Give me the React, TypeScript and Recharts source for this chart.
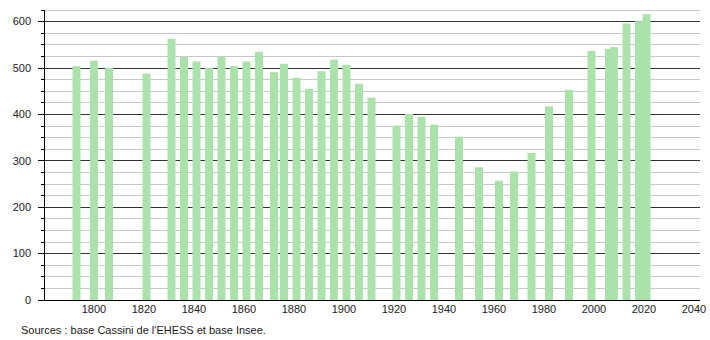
import React from "react";
import { BarChart, Bar, XAxis, YAxis, CartesianGrid } from "recharts";

const years = [1793, 1800, 1806, 1821, 1831, 1836, 1841, 1846, 1851, 1856, 1861, 1866, 1872, 1876, 1881, 1886, 1891, 1896, 1901, 1906, 1911, 1921, 1926, 1931, 1936, 1946, 1954, 1962, 1968, 1975, 1982, 1990, 1999, 2006, 2008, 2013, 2018, 2021];
const population = [504, 516, 500, 488, 563, 524, 514, 500, 524, 504, 514, 535, 491, 509, 479, 455, 493, 518, 507, 466, 436, 376, 401, 395, 378, 352, 286, 257, 277, 317, 417, 453, 537, 541, 545, 596, 601, 616];
const xTicks = [1800, 1820, 1840, 1860, 1880, 1900, 1920, 1940, 1960, 1980, 2000, 2020, 2040];
const yMajor = [0, 100, 200, 300, 400, 500, 600];
const yMinor = [25, 50, 75, 125, 150, 175, 225, 250, 275, 325, 350, 375, 425, 450, 475, 525, 550, 575, 625];
const yAll = [...yMajor, ...yMinor].sort((a, b) => a - b);
const sourceText = "Sources : base Cassini de l'EHESS et base Insee.";

const data = years.map((y, i) => ({ year: y, pop: population[i] }));

const FONT = "'Liberation Sans', Arial, Helvetica, sans-serif";

const BarShape = (props: any) => {
  const { x, y, width, height } = props;
  const cx = x + width / 2;
  return <rect x={cx - 4} y={y} width={8} height={height} fill="#abe1ab" />;
};

const YTick = (props: any) => {
  const { x, y, payload } = props;
  const major = payload.value % 100 === 0;
  return (
    <g>
      <line x1={major ? x - 6 : x - 3} x2={x} y1={y} y2={y} stroke="#000" strokeWidth={1} shapeRendering="crispEdges" />
      {major && (
        <text x={x - 13} y={y} dy="0.35em" textAnchor="end" fontSize={11} fontFamily={FONT} fill="#222">
          {payload.value}
        </text>
      )}
    </g>
  );
};

const gridLine = (p: any) => {
  const { x1, x2, y1, y2, index } = p;
  const v = yAll[index];
  const major = v !== undefined && v % 100 === 0;
  return (
    <line
      key={`h-${index}`}
      x1={x1}
      x2={x2}
      y1={y1}
      y2={y2}
      stroke={major ? "#333333" : "#c8c8c8"}
      strokeWidth={1}
      shapeRendering="crispEdges"
      fill="none"
    />
  );
};

export default function App() {
  return (
    <div style={{ position: "absolute", left: 0, top: 0, width: 710, height: 340, background: "#fff" }}>
      <BarChart width={710} height={340} data={data} margin={{ top: 10, right: 10, bottom: 10, left: 0 }}>
        <CartesianGrid vertical={false} horizontalValues={yAll} horizontal={gridLine} />
        <XAxis
          dataKey="year"
          type="number"
          domain={[1780, 2042.4]}
          ticks={xTicks}
          allowDataOverflow
          height={30}
          tickLine={false}
          tickSize={0}
          tickMargin={5}
          axisLine={{ stroke: "#000", shapeRendering: "crispEdges" }}
          tick={{ fontSize: 11, fontFamily: FONT, fill: "#222" }}
          interval={0}
        />
        <YAxis
          type="number"
          domain={[0, 625]}
          ticks={yAll}
          interval={0}
          width={44}
          tickSize={0}
          tickMargin={0}
          tickLine={false}
          axisLine={{ stroke: "#000", shapeRendering: "crispEdges" }}
          tick={<YTick />}
        />
        <Bar dataKey="pop" shape={<BarShape />} isAnimationActive={false} />
      </BarChart>
      <div
        style={{
          position: "absolute",
          left: 21,
          top: 324,
          fontSize: 11,
          lineHeight: "12px",
          fontFamily: FONT,
          color: "#222",
          whiteSpace: "nowrap",
        }}
      >
        {sourceText}
      </div>
    </div>
  );
}
